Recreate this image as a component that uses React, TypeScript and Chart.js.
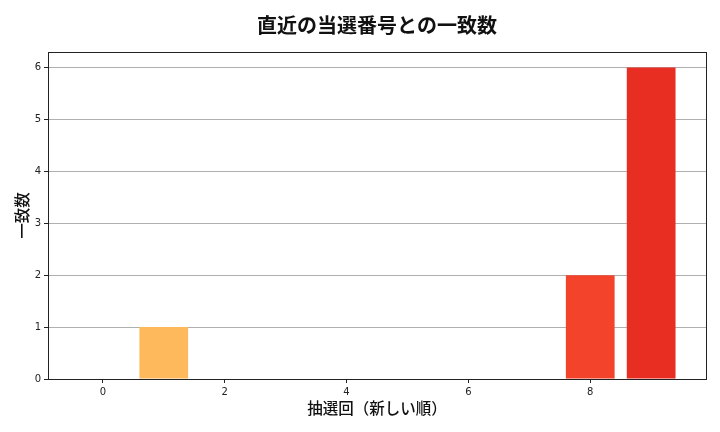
import { useRef, useEffect } from 'react';
import { Chart, registerables } from 'chart.js';

Chart.register(...registerables);

const drawIndex = [0, 1, 2, 3, 4, 5, 6, 7, 8, 9];
const matchCounts = [0, 1, 0, 0, 0, 0, 0, 0, 2, 6];
const barColors = [
  '#ffffcc', '#fdb95b', '#ffffcc', '#ffffcc', '#ffffcc',
  '#ffffcc', '#ffffcc', '#ffffcc', '#f3432b', '#e82d22',
];
const xTicks = [0, 2, 4, 6, 8];
const yTicks = [0, 1, 2, 3, 4, 5, 6];

const titleText = '直近の当選番号との一致数';
const xLabel = '抽選回（新しい順）';
const yLabel = '一致数';

const cjk = "'Noto Sans CJK JP', 'DejaVu Sans', sans-serif";
const tickFont = "'DejaVu Sans', sans-serif";

// frame around the plot area (like matplotlib spines) and a title centred over it
const framePlugin = {
  id: 'frame',
  afterDraw(chart: any) {
    const { ctx, chartArea } = chart;
    ctx.save();
    ctx.strokeStyle = '#222222';
    ctx.lineWidth = 1;
    ctx.strokeRect(
      Math.round(chartArea.left) + 0.5,
      Math.round(chartArea.top) + 0.5,
      Math.round(chartArea.right - chartArea.left),
      Math.round(chartArea.bottom - chartArea.top)
    );
    ctx.fillStyle = '#111111';
    ctx.font = `600 20px ${cjk}`;
    ctx.textAlign = 'center';
    ctx.textBaseline = 'middle';
    ctx.fillText(titleText, (chartArea.left + chartArea.right) / 2, 25);
    ctx.restore();
  },
};

export default function App() {
  const canvasRef = useRef<HTMLCanvasElement>(null);
  const chartRef = useRef<Chart | null>(null);

  useEffect(() => {
    if (!canvasRef.current) return;
    if (chartRef.current) chartRef.current.destroy();
    const ctx = canvasRef.current.getContext('2d');
    if (!ctx) return;

    const points = drawIndex.map((x, i) => ({ x, y: matchCounts[i] }));

    chartRef.current = new Chart(ctx, {
      type: 'bar',
      data: {
        datasets: [
          {
            data: points,
            backgroundColor: barColors,
            borderWidth: 0,
            barPercentage: 0.8,
            categoryPercentage: 1,
          },
        ],
      },
      options: {
        responsive: false,
        animation: false,
        layout: { padding: { left: 0, right: 14, top: 52, bottom: 0 } },
        plugins: {
          legend: { display: false },
          tooltip: { enabled: false },
          title: { display: false },
        },
        scales: {
          x: {
            type: 'linear',
            min: -0.9,
            max: 9.9,
            offset: false,
            afterBuildTicks: (scale: any) => {
              scale.ticks = xTicks.map((v) => ({ value: v }));
            },
            afterFit: (scale: any) => {
              scale.height = 53;
            },
            ticks: {
              color: '#222222',
              font: { family: tickFont, size: 10 },
              padding: 3,
              maxRotation: 0,
            },
            grid: {
              display: true,
              offset: false,
              drawOnChartArea: false,
              tickLength: 4,
              tickColor: '#222222',
            },
            border: { display: false },
            title: {
              display: true,
              text: xLabel,
              color: '#111111',
              font: { family: cjk, size: 15.5, weight: 500 },
              padding: { top: 0, bottom: 15 },
            },
          },
          y: {
            min: 0,
            max: 6.3,
            z: 1,
            afterBuildTicks: (scale: any) => {
              scale.ticks = yTicks.map((v) => ({ value: v }));
            },
            afterFit: (scale: any) => {
              scale.width = 48;
            },
            ticks: {
              color: '#222222',
              font: { family: tickFont, size: 10 },
              padding: 3,
            },
            grid: {
              color: '#b0b0b0',
              lineWidth: 1,
              tickLength: 4,
              tickColor: '#222222',
            },
            border: { display: false },
            title: {
              display: true,
              text: yLabel,
              color: '#111111',
              font: { family: cjk, size: 15.5, weight: 500 },
              padding: { top: 13, bottom: 0 },
            },
          },
        },
      },
      plugins: [framePlugin],
    });

    return () => {
      if (chartRef.current) {
        chartRef.current.destroy();
        chartRef.current = null;
      }
    };
  }, []);

  return (
    <div style={{ width: 720, height: 432, background: '#ffffff', margin: -8 }}>
      <canvas ref={canvasRef} width={720} height={432}></canvas>
    </div>
  );
}
